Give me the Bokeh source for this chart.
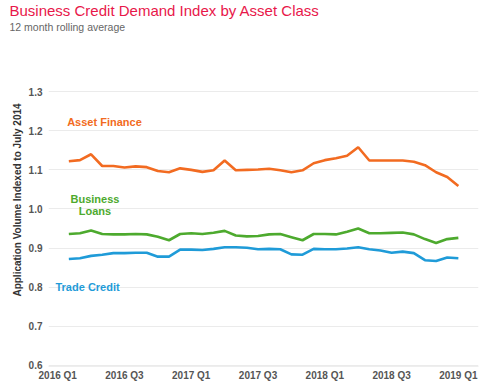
from bokeh.plotting import figure
from bokeh.models import ColumnDataSource, FixedTicker, Label, Range1d, Title
from bokeh.embed import file_html
from bokeh.resources import INLINE

# month index: 0 = Jan 2016; data from Feb 2016 (1) to Jan 2019 (36)
months = list(range(1, 37))
asset_finance = [1.122, 1.125, 1.140, 1.110, 1.110, 1.106, 1.109, 1.107, 1.097, 1.094, 1.104, 1.100,
                 1.095, 1.099, 1.124, 1.099, 1.100, 1.101, 1.103, 1.099, 1.094, 1.099, 1.117, 1.125,
                 1.130, 1.136, 1.158, 1.124, 1.124, 1.124, 1.124, 1.121, 1.112, 1.094, 1.082, 1.059]
business_loans = [0.936, 0.938, 0.945, 0.936, 0.935, 0.935, 0.936, 0.935, 0.929, 0.920, 0.936, 0.938,
                  0.936, 0.939, 0.944, 0.932, 0.930, 0.931, 0.935, 0.936, 0.928, 0.920, 0.936, 0.936,
                  0.935, 0.942, 0.950, 0.938, 0.938, 0.939, 0.940, 0.935, 0.923, 0.913, 0.923, 0.926]
trade_credit = [0.872, 0.874, 0.880, 0.883, 0.887, 0.887, 0.888, 0.888, 0.878, 0.878, 0.896, 0.896,
                0.895, 0.898, 0.902, 0.902, 0.901, 0.897, 0.898, 0.897, 0.884, 0.883, 0.898, 0.897,
                0.897, 0.899, 0.902, 0.897, 0.894, 0.888, 0.891, 0.887, 0.869, 0.867, 0.876, 0.874]
tick_pos = [0, 6, 12, 18, 24, 30, 36]
tick_labels = ["2016 Q1", "2016 Q3", "2017 Q1", "2017 Q3", "2018 Q1", "2018 Q3", "2019 Q1"]
y_ticks = [0.6, 0.7, 0.8, 0.9, 1.0, 1.1, 1.2, 1.3]

ORANGE = "#F26B21"
GREEN = "#4DAA2E"
BLUE = "#1F9BD8"
FONT = "Liberation Sans"

p = figure(width=484, height=389, output_backend="svg", toolbar_location=None, title=None,
           x_range=Range1d(-0.827, 37.81), y_range=Range1d(0.597, 1.449),
           min_border_left=48, min_border_right=6, min_border_top=0, min_border_bottom=23)
p.outline_line_color = None
p.background_fill_color = "white"
p.border_fill_color = "white"

src = ColumnDataSource(dict(m=months, af=asset_finance, bl=business_loans, tc=trade_credit))
p.line("m", "af", source=src, line_color=ORANGE, line_width=2.6)
p.line("m", "bl", source=src, line_color=GREEN, line_width=2.6)
p.line("m", "tc", source=src, line_color=BLUE, line_width=2.6)

p.xgrid.grid_line_color = None
p.ygrid.grid_line_color = "#EBEBEB"
p.ygrid.ticker = FixedTicker(ticks=y_ticks)

p.xaxis.ticker = FixedTicker(ticks=tick_pos)
p.xaxis.major_label_overrides = {t: l for t, l in zip(tick_pos, tick_labels)}
p.xaxis.axis_line_color = "#EEEEEE"
p.xaxis.major_tick_line_color = "#E6E6E6"
p.xaxis.major_tick_out = 0
p.xaxis.major_tick_in = 0
p.xaxis.minor_tick_line_color = None
p.xaxis.major_label_standoff = 3
p.xaxis.major_label_text_font = FONT
p.xaxis.major_label_text_font_style = "bold"
p.xaxis.major_label_text_font_size = "10px"
p.xaxis.major_label_text_color = "#555555"

p.yaxis.ticker = FixedTicker(ticks=y_ticks)
p.yaxis.major_label_overrides = {t: f"{t:.1f}" for t in y_ticks}
p.yaxis.axis_line_color = None
p.yaxis.major_tick_line_color = None
p.yaxis.minor_tick_line_color = None
p.yaxis.major_label_standoff = 0
p.yaxis.major_label_text_font = FONT
p.yaxis.major_label_text_font_style = "bold"
p.yaxis.major_label_text_font_size = "10px"
p.yaxis.major_label_text_color = "#555555"
p.yaxis.axis_label = "Application Volume Indexed to July 2014"
p.yaxis.axis_label_text_font = FONT
p.yaxis.axis_label_text_font_style = "bold"
p.yaxis.axis_label_text_font_size = "10px"
p.yaxis.axis_label_text_color = "#333333"
p.yaxis.axis_label_standoff = 3

# series labels (data coordinates)
p.add_layout(Label(x=0.85, y=1.2215, text="Asset Finance", text_color=ORANGE, text_font=FONT,
                   text_font_style="bold", text_font_size="11px", text_baseline="middle", text_align="left"))
p.add_layout(Label(x=3.35, y=1.0255, text="Business", text_color=GREEN, text_font=FONT,
                   text_font_style="bold", text_font_size="11px", text_baseline="middle", text_align="center"))
p.add_layout(Label(x=3.35, y=0.9955, text="Loans", text_color=GREEN, text_font=FONT,
                   text_font_style="bold", text_font_size="11px", text_baseline="middle", text_align="center"))
p.add_layout(Label(x=-0.2, y=0.8, text="Trade Credit", text_color=BLUE, text_font=FONT,
                   text_font_style="bold", text_font_size="11px", text_baseline="middle", text_align="left"))

# titles
sub = Title(text="12 month rolling average", text_color="#666666", text_font=FONT,
            text_font_size="10.5px", text_font_style="normal", align="left", offset=-39, standoff=1)
main = Title(text="Business Credit Demand Index by Asset Class", text_color="#E8174A", text_font=FONT,
             text_font_size="15px", text_font_style="normal", align="left", offset=-39, standoff=-1)
p.add_layout(sub, "above")
p.add_layout(main, "above")

open("out.html", "w").write(file_html(p, INLINE))
